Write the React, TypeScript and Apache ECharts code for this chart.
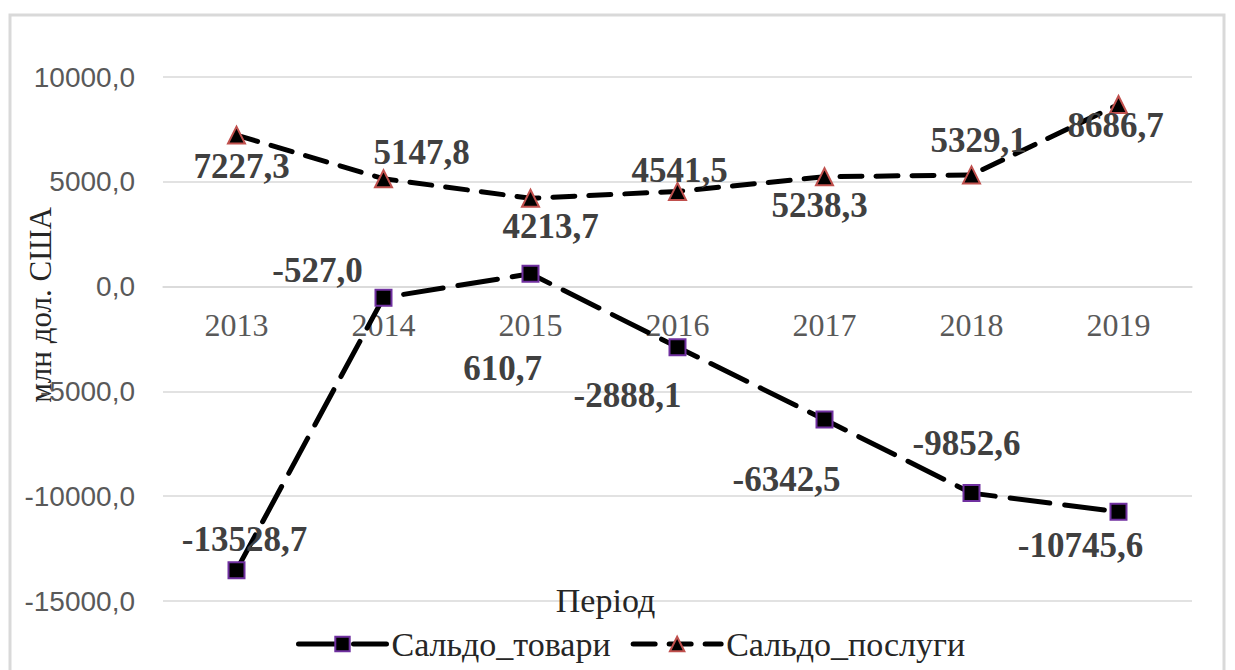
import React, { useEffect, useRef } from "react";
import * as echarts from "echarts";

const years = ["2013", "2014", "2015", "2016", "2017", "2018", "2019"];
const goodsBalance = [-13528.7, -527.0, 610.7, -2888.1, -6342.5, -9852.6, -10745.6];
const servicesBalance = [7227.3, 5147.8, 4213.7, 4541.5, 5238.3, 5329.1, 8686.7];
const goodsLabelOffsets = [[8, -31], [-66, -27], [-28, 95], [-50, 48], [-38, 60], [-5, -50], [-38, 34]];
const servicesLabelOffsets = [[5, 31], [38, -26], [20, 28], [2, -21], [-5, 29], [7, -34], [-3, 21]];
const yTicks = { min: -15000, max: 10000, interval: 5000 };

const fmt = (v: number) => v.toFixed(1).replace(".", ",");
const SERIF = "'Liberation Serif', 'Times New Roman', serif";
const SANS = "'Liberation Sans', Arial, sans-serif";

const GRID_TOP = 77;
const GRID_BOTTOM = 69;
const CHART_H = 670;

export default function App() {
  const ref = useRef<HTMLDivElement>(null);
  useEffect(() => {
    if (!ref.current) return;
    const chart = echarts.init(ref.current, null, { renderer: "svg" });
    const gridH = CHART_H - GRID_TOP - GRID_BOTTOM;
    // distance from grid bottom (min) to the zero line
    const zeroShift = (gridH * (0 - yTicks.min)) / (yTicks.max - yTicks.min);
    const labelStyle = {
      show: true,
      position: "inside" as const,
      fontFamily: SERIF,
      fontWeight: "bold" as const,
      fontSize: 35,
      color: "#404040",
      formatter: (p: any) => fmt(p.value),
    };
    chart.setOption({
      animation: false,
      backgroundColor: "#ffffff",
      graphic: [
        {
          type: "rect",
          shape: { x: 10, y: 15, width: 1214, height: 680 },
          style: { fill: "none", stroke: "#d9d9d9", lineWidth: 3 },
          silent: true,
        },
        {
          type: "text",
          x: 40,
          y: 305,
          rotation: Math.PI / 2,
          style: {
            text: "млн дол. США",
            fontFamily: SERIF,
            fontSize: 31,
            fill: "#262626",
            align: "center",
            verticalAlign: "middle",
          },
        },
      ],
      grid: {
        left: 163,
        right: 43,
        top: GRID_TOP,
        bottom: GRID_BOTTOM,
        containLabel: false,
        outerBoundsMode: "none",
      },
      legend: {
        top: 622,
        left: 291,
        itemWidth: 88,
        itemHeight: 18,
        itemGap: 20,
        lineStyle: { width: 5 },
        textStyle: { fontFamily: SERIF, fontSize: 34, color: "#262626" },
        data: ["Сальдо_товари", "Сальдо_послуги"],
      },
      xAxis: {
        type: "category",
        data: years,
        boundaryGap: true,
        position: "bottom",
        offset: -zeroShift,
        axisLine: { show: true, onZero: false, lineStyle: { color: "#d9d9d9", width: 1.5 } },
        axisTick: { show: false },
        axisLabel: { fontFamily: SERIF, fontSize: 32, color: "#595959", margin: 22 },
        name: "Період",
        nameLocation: "middle",
        nameGap: 297,
        nameTextStyle: {
          fontFamily: SERIF,
          fontSize: 34,
          color: "#262626",
          padding: [0, 144, 0, 0],
        },
      },
      yAxis: {
        type: "value",
        min: yTicks.min,
        max: yTicks.max,
        interval: yTicks.interval,
        axisLine: { show: false },
        axisTick: { show: false },
        splitLine: { lineStyle: { color: "#d9d9d9", width: 1.5 } },
        axisLabel: {
          fontFamily: SANS,
          fontSize: 28,
          color: "#595959",
          margin: 28,
          formatter: (v: number) => fmt(v),
        },
      },
      series: [
        {
          name: "Сальдо_товари",
          type: "line",
          data: goodsBalance.map((v, i) => ({
            value: v,
            label: { offset: goodsLabelOffsets[i] },
          })),
          symbol: "rect",
          symbolSize: 16,
          itemStyle: { color: "#000000", borderColor: "#7030a0", borderWidth: 2 },
          lineStyle: { color: "#000000", width: 5, type: [40, 15], cap: "round" },
          label: labelStyle,
          z: 3,
        },
        {
          name: "Сальдо_послуги",
          type: "line",
          data: servicesBalance.map((v, i) => ({
            value: v,
            label: { offset: servicesLabelOffsets[i] },
          })),
          symbol: "triangle",
          symbolSize: 17,
          itemStyle: { color: "#000000", borderColor: "#c0504d", borderWidth: 2 },
          lineStyle: { color: "#000000", width: 5, type: [22, 14], cap: "round" },
          label: labelStyle,
          z: 2,
        },
      ],
    });
    return () => chart.dispose();
  }, []);
  return (
    <div
      ref={ref}
      style={{ position: "fixed", left: 0, top: 0, width: 1235, height: 670 }}
    />
  );
}
